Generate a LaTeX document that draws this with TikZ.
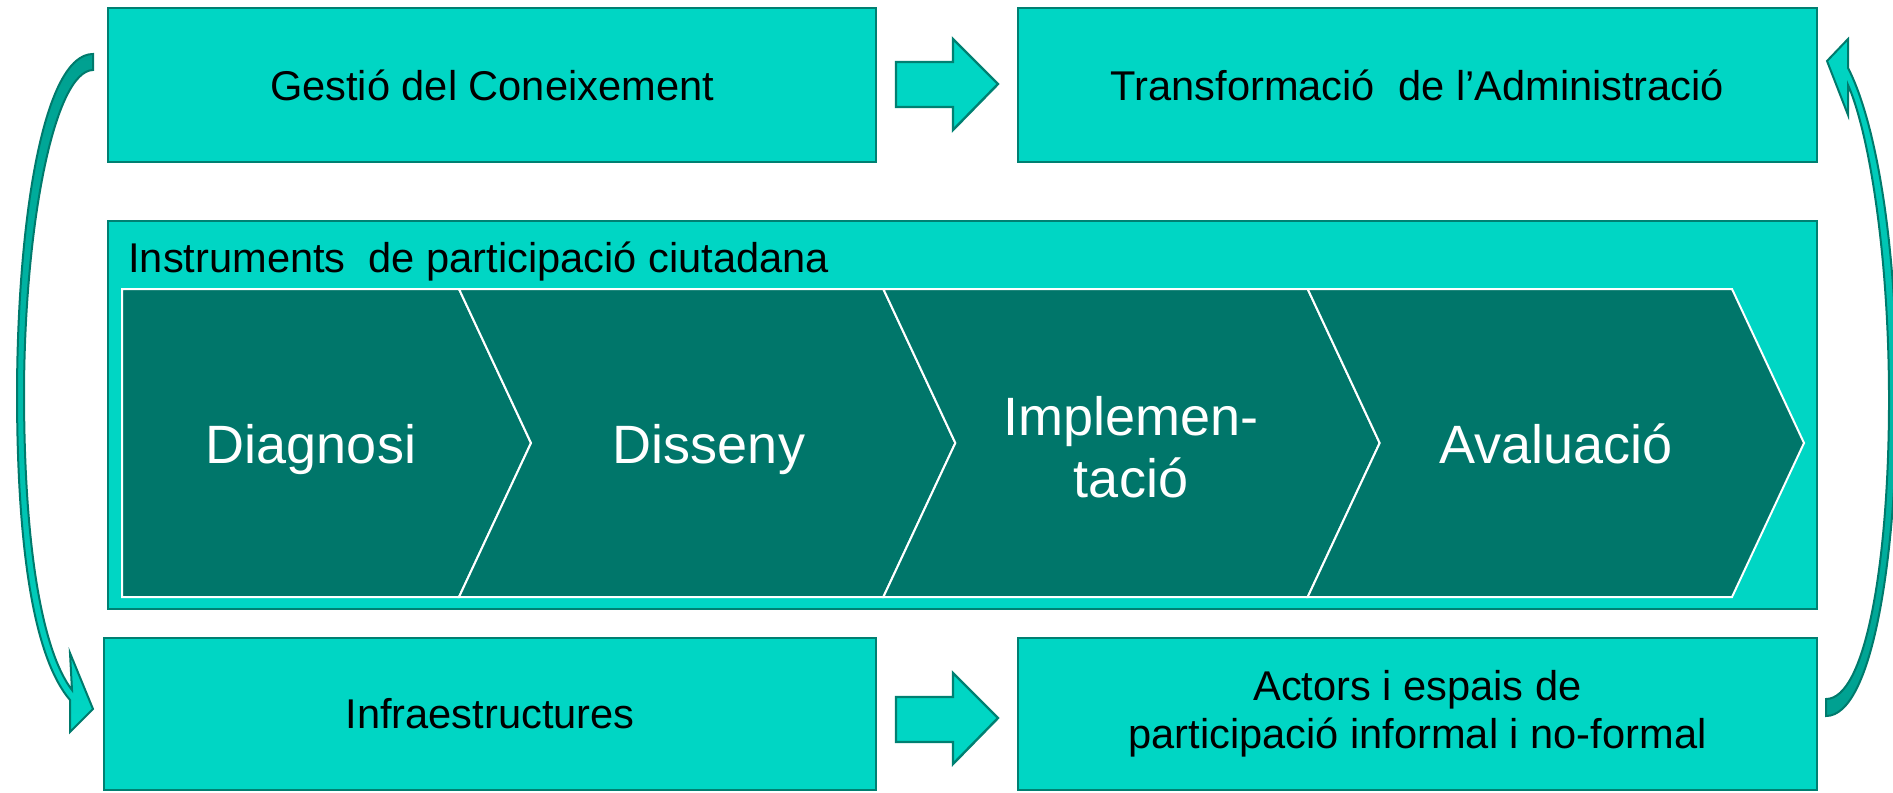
\documentclass[tikz,border=0pt]{standalone}
\usepackage{fontspec}
\setmainfont{Liberation Sans}
\definecolor{boxfill}{RGB}{0,214,196}
\definecolor{boxline}{RGB}{0,128,114}
\definecolor{chevfill}{RGB}{0,118,106}
\definecolor{ribbon}{RGB}{0,160,144}
\definecolor{ribbonline}{RGB}{0,122,108}
\begin{document}
\begin{tikzpicture}[x=0.5pt,y=-0.5pt,
  box/.style={draw=boxline, line width=1.2pt, fill=boxfill, font=\fontsize{20.8}{24}\selectfont, align=center, inner sep=0pt},
  chev/.style={fill=chevfill, draw=white, line width=1pt, line join=miter},
  chevtext/.style={text=white, font=\fontsize{27}{31}\selectfont, align=center, inner sep=0pt, anchor=base},
  blockarrow/.style={fill=boxfill, draw=boxline, line width=1.2pt, line join=miter},
  ribbonstyle/.style={draw=ribbonline, line width=1pt, line join=miter}]
\useasboundingbox (0,0) rectangle (1893,792);
\clip (0,0) rectangle (1893,792);

% boxes
\node[box, minimum width=384pt, minimum height=77pt] (gc) at (492,85) {Gestió del Coneixement};
\node[box, minimum width=399.5pt, minimum height=77pt] (ta) at (1417.5,85) {Transformació~ de l’Administració};
\node[box, minimum width=854.5pt, minimum height=194pt] (ipc) at (962.5,415) {};
\node[anchor=base west, font=\fontsize{20.8}{24}\selectfont, inner sep=0pt] (ipct) at (128,272) {Instruments~ de participació ciutadana};
\node[box, minimum width=386pt, minimum height=76pt] (inf) at (490,714) {Infraestructures};
\node[box, minimum width=399.5pt, minimum height=76pt] (act) at (1417.5,714) {Actors i espais de\\participació informal i no-formal};

% chevrons
\draw[chev] (122,289) -- (459,289) -- (531,443) -- (459,597) -- (122,597) -- cycle;
\foreach \k in {0,1,2} {
  \pgfmathsetmacro{\a}{459+424.33*\k}
  \draw[chev] (\a,289) -- (\a+424.33,289) -- (\a+496.33,443) -- (\a+424.33,597) -- (\a,597) -- (\a+72,443) -- cycle;
}
\node[chevtext] (c1) at (311,463) {Diagnosi};
\node[chevtext] (c2) at (709,463) {Disseny};
\node[chevtext] (c3) at (1131,497) {Implemen-\\tació};
\node[chevtext] (c4) at (1556,463) {Avaluació};

% block arrows
\draw[blockarrow] (896,62) -- (953,62) -- (953,39) -- (998,84) -- (953,130) -- (953,107) -- (896,107) -- cycle;
\draw[blockarrow] (896,697) -- (953,697) -- (953,673) -- (998,718) -- (953,764) -- (953,742) -- (896,742) -- cycle;

% curved arrows
\path[ribbonstyle, top color=ribbon, bottom color=boxfill] (93,54) -- (93,70)
  .. controls (55,71) and (25,220) .. (24,390)
  .. controls (24,560) and (45,655) .. (72,690)
  -- (70,653) -- (93,709) -- (70,732) -- (70,700)
  .. controls (36,660) and (17,560) .. (17,390)
  .. controls (18,210) and (45,54) .. (93,54) -- cycle;
\path[ribbonstyle, top color=boxfill, bottom color=ribbon] (1826,699) -- (1826,716)
  .. controls (1872,716) and (1896,560) .. (1897,400)
  .. controls (1897,240) and (1875,120) .. (1848,68)
  -- (1848,39) -- (1827,61) -- (1848,115) -- (1848,85)
  .. controls (1868,130) and (1889,250) .. (1889,400)
  .. controls (1889,560) and (1866,699) .. (1826,699) -- cycle;
\end{tikzpicture}
\end{document}
